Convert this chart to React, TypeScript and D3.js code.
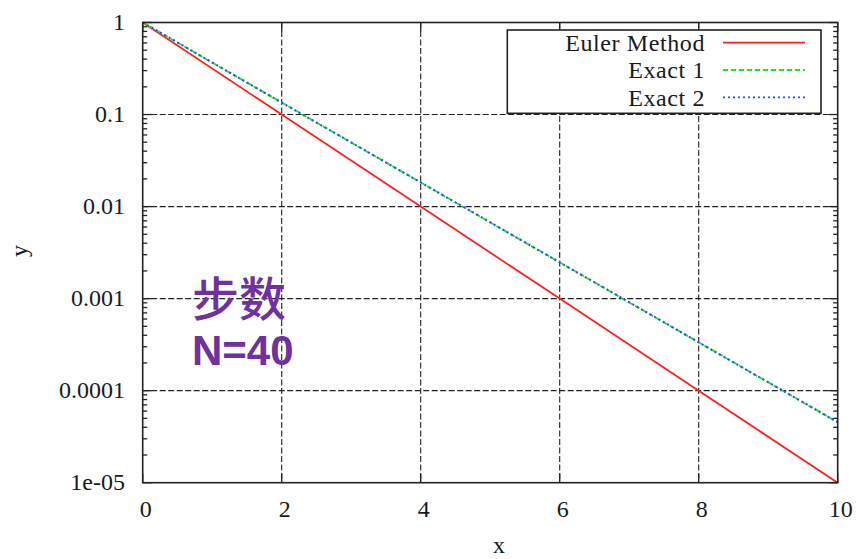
import React, { useEffect, useRef } from "react";
import * as d3 from "d3";

// values (log-scale y)
const xValues = [0, 2, 4, 6, 8, 10];
const eulerValues = [1, 0.1, 0.01, 0.001, 0.0001, 0.00001];
const exact1Values = [1, 0.135, 0.0183, 0.00248, 0.000335, 0.0000454];
const exact2Values = [1, 0.135, 0.0183, 0.00248, 0.000335, 0.0000454];
const xTicks = [0, 2, 4, 6, 8, 10];
const yTicks = [1, 0.1, 0.01, 0.001, 0.0001, 0.00001];
const yTickLabels = ["1", "0.1", "0.01", "0.001", "0.0001", "1e-05"];
const legendNames = ["Euler Method", "Exact 1", "Exact 2"];

export default function App() {
  const ref = useRef<SVGSVGElement>(null);

  useEffect(() => {
    const width = 857;
    const height = 559;
    const margin = { top: 22.5, right: 19.3, bottom: 76.3, left: 142.7 };
    const svg = d3.select(ref.current).attr("width", width).attr("height", height);
    svg.selectAll("*").remove();

    const serif = "'Liberation Serif', 'Times New Roman', serif";
    const ink = "#1a1a1a";

    const x = d3
      .scaleLinear()
      .domain([0, 10])
      .range([margin.left, width - margin.right]);
    const y = d3
      .scaleLog()
      .domain([0.00001, 1])
      .range([height - margin.bottom, margin.top]);

    const x0 = x.range()[0];
    const x1 = x.range()[1];
    const yTop = y.range()[1];
    const yBot = y.range()[0];

    svg.append("rect").attr("width", width).attr("height", height).attr("fill", "#fff");

    // grid
    const grid = svg.append("g").attr("stroke", "#222").attr("stroke-width", 1.1).attr("stroke-dasharray", "6,2.5");
    grid
      .selectAll(".gx")
      .data(xTicks.slice(1, -1))
      .join("line")
      .attr("x1", (d) => x(d))
      .attr("x2", (d) => x(d))
      .attr("y1", yTop)
      .attr("y2", yBot);
    grid
      .selectAll(".gy")
      .data(yTicks.slice(1, -1))
      .join("line")
      .attr("x1", x0)
      .attr("x2", x1)
      .attr("y1", (d) => y(d))
      .attr("y2", (d) => y(d));

    // ticks: log minor ticks on left and right, major ticks on all sides
    const minor: number[] = [];
    for (let e = -5; e < 0; e++) for (let m = 2; m <= 9; m++) minor.push(m * Math.pow(10, e));
    const ticks = svg.append("g").attr("stroke", "#222").attr("stroke-width", 1.3);
    ticks
      .selectAll(".ml")
      .data(minor)
      .join("line")
      .attr("x1", x0)
      .attr("x2", x0 + 4.5)
      .attr("y1", (d) => y(d))
      .attr("y2", (d) => y(d));
    ticks
      .selectAll(".mr")
      .data(minor)
      .join("line")
      .attr("x1", x1)
      .attr("x2", x1 - 4.5)
      .attr("y1", (d) => y(d))
      .attr("y2", (d) => y(d));
    ticks
      .selectAll(".Ml")
      .data(yTicks)
      .join("line")
      .attr("x1", x0)
      .attr("x2", x0 + 9)
      .attr("y1", (d) => y(d))
      .attr("y2", (d) => y(d));
    ticks
      .selectAll(".Mr")
      .data(yTicks)
      .join("line")
      .attr("x1", x1)
      .attr("x2", x1 - 9)
      .attr("y1", (d) => y(d))
      .attr("y2", (d) => y(d));
    ticks
      .selectAll(".Mb")
      .data(xTicks)
      .join("line")
      .attr("x1", (d) => x(d))
      .attr("x2", (d) => x(d))
      .attr("y1", yBot)
      .attr("y2", yBot - 9);
    ticks
      .selectAll(".Mt")
      .data(xTicks)
      .join("line")
      .attr("x1", (d) => x(d))
      .attr("x2", (d) => x(d))
      .attr("y1", yTop)
      .attr("y2", yTop + 9);

    // curves
    const line = d3
      .line<number>()
      .x((_, i) => x(xValues[i]))
      .y((d) => y(d));
    const series = [
      { values: eulerValues, color: "#ff2020", dash: null, w: 1.8 },
      { values: exact1Values, color: "#22e022", dash: "5,3", w: 1.8 },
      { values: exact2Values, color: "#2a4cff", dash: "2,3", w: 2 },
    ];
    series.forEach((s) => {
      svg
        .append("path")
        .datum(s.values)
        .attr("d", line)
        .attr("fill", "none")
        .attr("stroke", s.color)
        .attr("stroke-width", s.w)
        .attr("stroke-dasharray", s.dash);
    });

    // frame
    svg
      .append("rect")
      .attr("x", x0)
      .attr("y", yTop)
      .attr("width", x1 - x0)
      .attr("height", yBot - yTop)
      .attr("fill", "none")
      .attr("stroke", "#222")
      .attr("stroke-width", 1.6);

    // legend
    const lg = svg.append("g");
    lg.append("rect")
      .attr("x", 507.3)
      .attr("y", 30)
      .attr("width", 313.7)
      .attr("height", 83.3)
      .attr("fill", "#fff")
      .attr("stroke", "#222")
      .attr("stroke-width", 1.6);
    legendNames.forEach((name, i) => {
      const cy = 42.7 + i * 27.3;
      lg.append("text")
        .attr("x", 705)
        .attr("y", cy)
        .attr("dy", "0.35em")
        .attr("text-anchor", "end")
        .attr("font-family", serif)
        .attr("font-size", 24)
        .attr("letter-spacing", 0.6)
        .attr("fill", ink)
        .text(name);
      lg.append("line")
        .attr("x1", 723)
        .attr("x2", 805)
        .attr("y1", cy)
        .attr("y2", cy)
        .attr("stroke", series[i].color)
        .attr("stroke-width", 1.8)
        .attr("stroke-dasharray", series[i].dash);
    });

    // tick labels
    svg
      .selectAll(".yl")
      .data(yTicks)
      .join("text")
      .attr("x", 125)
      .attr("y", (d) => y(d))
      .attr("dy", "0.3em")
      .attr("text-anchor", "end")
      .attr("font-family", serif)
      .attr("font-size", 24)
      .attr("fill", ink)
      .text((_, i) => yTickLabels[i]);
    svg
      .selectAll(".xl")
      .data(xTicks)
      .join("text")
      .attr("x", (d) => x(d) + 3)
      .attr("y", 517)
      .attr("text-anchor", "middle")
      .attr("font-family", serif)
      .attr("font-size", 24)
      .attr("fill", ink)
      .text((d) => String(d));

    // axis labels
    svg
      .append("text")
      .attr("x", 499)
      .attr("y", 553)
      .attr("text-anchor", "middle")
      .attr("font-family", serif)
      .attr("font-size", 24)
      .attr("fill", ink)
      .text("x");
    svg
      .append("text")
      .attr("transform", "translate(27, 251) rotate(-90)")
      .attr("text-anchor", "middle")
      .attr("font-family", serif)
      .attr("font-size", 24)
      .attr("fill", ink)
      .text("y");

    // annotation
    svg
      .append("text")
      .attr("x", 192)
      .attr("y", 316)
      .attr("font-family", "'Noto Sans CJK SC', sans-serif")
      .attr("font-size", 47)
      .attr("font-weight", 500)
      .attr("fill", "#7030a0")
      .text("步数");
    svg
      .append("text")
      .attr("x", 192)
      .attr("y", 365)
      .attr("font-family", "'Liberation Sans', Arial, sans-serif")
      .attr("font-size", 42)
      .attr("font-weight", 700)
      .attr("fill", "#7030a0")
      .text("N=40");
  }, []);

  return (
    <div style={{ position: "absolute", left: 0, top: 0 }}>
      <svg ref={ref} style={{ display: "block" }} />
    </div>
  );
}
